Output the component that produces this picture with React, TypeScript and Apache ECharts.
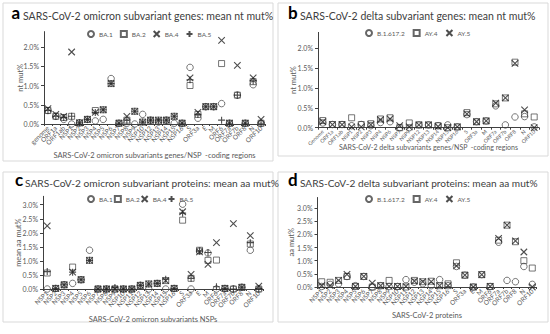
import React, { useEffect, useRef } from 'react';
import * as echarts from 'echarts';

const genesOmicron = ['genome','ORF1a','ORF1ab','NSP1','NSP2','NSP3','NSP4','NSP5','NSP6','NSP7','NSP8','NSP9','NSP10','NSP12','NSP13','NSP14','NSP15','NSP16','S','ORF3a','E','M','ORF6','ORF7a','ORF7b','ORF8','N','ORF10'];
const aBA1 = [0.35,0.2,0.12,0.0,0.03,0.12,0.08,0.12,1.18,0.02,0.02,0.0,0.25,0.1,0.05,0.1,0.02,0.02,1.47,0.15,0.45,0.45,0.53,0.02,0.75,0.02,1.02,0.02];
const aBA2 = [0.35,0.2,0.17,0.2,0.03,0.12,0.35,0.37,1.05,0.02,0.1,0.33,0.05,0.1,0.1,0.1,0.2,0.02,1.0,0.25,0.45,0.45,1.57,0.02,0.75,0.02,1.1,0.02];
const aBA4 = [0.4,0.25,0.2,1.87,0.03,0.12,0.3,0.37,1.05,0.02,0.2,0.33,0.05,0.1,0.1,0.1,0.2,0.02,1.2,0.3,0.45,0.45,2.17,0.02,1.52,0.02,1.2,0.12];
const aBA5 = [0.35,0.2,0.17,0.2,0.03,0.12,0.3,0.37,1.05,0.02,0.1,0.33,0.05,0.1,0.1,0.1,0.2,0.02,1.15,0.25,0.45,0.45,0.1,0.02,0.75,0.02,1.12,0.02];

const genesDelta = ['Genome','ORF1a','ORF1ab','NSP1','NSP2','NSP3','NSP4','NSP6','NSP7','NSP9','NSP12','NSP13','NSP14','NSP15','NSP16','S','ORF3a','M','ORF7a','ORF7b','ORF8','N','ORF10'];
const bB1617 = [0.12,0.08,0.08,0.05,0.08,0.05,0.13,0.15,0.0,0.0,0.07,0.07,0.05,0.07,0.02,0.33,0.15,0.17,0.55,0.07,0.27,0.28,0.02];
const bAY4 = [0.18,0.08,0.08,0.25,0.08,0.1,0.22,0.25,0.0,0.12,0.07,0.07,0.05,0.0,0.02,0.38,0.15,0.17,0.6,0.75,1.65,0.35,0.27];
const bAY5 = [0.15,0.08,0.08,0.02,0.02,0.08,0.2,0.22,0.05,0.02,0.07,0.07,0.03,0.0,0.02,0.35,0.15,0.17,0.62,0.75,1.62,0.45,0.0];

const proteins = ['NSP1','NSP2','NSP3','NSP4','NSP5','NSP6','NSP7','NSP8','NSP9','NSP10','NSP11','NSP12','NSP13','NSP14','NSP15','NSP16','S','ORF3a','E','M','ORF6','ORF7a','ORF7b','ORF8','N','ORF10'];
const cBA1 = [0.0,0.02,0.15,0.2,0.33,1.38,0.0,0.0,0.0,0.0,0.0,0.13,0.0,0.2,0.0,0.02,3.02,0.0,1.35,1.28,0.0,0.02,0.0,0.06,1.38,0.0];
const cBA2 = [0.57,0.02,0.15,0.78,0.33,1.02,0.0,0.0,0.0,0.0,0.0,0.13,0.18,0.2,0.3,0.02,2.45,0.38,1.38,1.02,1.03,0.02,0.0,0.06,1.6,0.0];
const cBA4 = [2.25,0.02,0.15,0.6,0.33,1.02,0.0,0.0,0.0,0.0,0.0,0.13,0.18,0.2,0.3,0.02,2.75,0.52,1.32,0.88,1.65,0.02,2.33,0.06,1.9,0.1];
const cBA5 = [0.62,0.02,0.15,0.6,0.33,1.02,0.0,0.0,0.05,0.0,0.0,0.13,0.18,0.2,0.35,0.02,2.7,0.38,1.35,1.3,0.08,0.02,0.0,0.06,1.65,0.02];

const dB1617 = [0.02,0.1,0.12,0.4,0.05,0.4,0.0,0.05,0.02,0.02,0.28,0.18,0.12,0.05,0.28,0.05,0.78,0.45,0.0,0.47,0.02,1.7,0.25,0.2,0.78,0.1];
const dAY4 = [0.2,0.18,0.25,0.4,0.02,0.4,0.0,0.05,0.25,0.02,0.0,0.25,0.2,0.22,0.05,0.12,0.92,0.45,0.0,0.47,0.02,1.78,2.35,1.72,1.0,0.72];
const dAY5 = [0.05,0.05,0.25,0.48,0.02,0.4,0.15,0.05,0.02,0.02,0.02,0.22,0.2,0.2,0.05,0.05,0.8,0.45,0.0,0.47,0.02,1.85,2.35,1.75,1.33,0.0];

const FONT = 'Lato';
const TXT = '#595959';
const AX = '#404040';

const SYM: Record<string, any> = {
  circle: { symbol: 'circle', symbolSize: 6.5, itemStyle: { color: 'rgba(0,0,0,0)', borderColor: '#404040', borderWidth: 0.9 } },
  square: { symbol: 'rect', symbolSize: 6, itemStyle: { color: 'rgba(0,0,0,0)', borderColor: '#404040', borderWidth: 0.9 } },
  cross: { symbol: 'path://M0,0L10,10M10,0L0,10', symbolSize: 6.5, itemStyle: { color: 'rgba(0,0,0,0)', borderColor: '#222', borderWidth: 1.1 } },
  plus: { symbol: 'path://M5,0L5,10M0,5L10,5', symbolSize: 7, itemStyle: { color: 'rgba(0,0,0,0)', borderColor: '#222', borderWidth: 1.1 } },
};

export default function App() {
  const ref = useRef<HTMLDivElement>(null);
  useEffect(() => {
    if (!ref.current) return;
    const chart = echarts.init(ref.current, undefined, { renderer: 'svg' });

    const grids = [
      { left: 44, top: 31.6, width: 221, height: 92.4 },
      { left: 318, top: 32.4, width: 221, height: 95.3 },
      { left: 43, top: 196.3, width: 220, height: 92.7 },
      { left: 317.5, top: 197.5, width: 219, height: 89.5 },
    ];
    const cats = [genesOmicron, genesDelta, proteins, proteins];
    const maxes = [2.4, 2.4, 3.3, 3.4];
    const xNames = [
      'SARS-CoV-2 omicron subvariants genes/NSP  -coding regions',
      'SARS-CoV-2 delta subvariants genes/NSP  -coding regions',
      'SARS-CoV-2 omicron subvariants NSPs',
      'SARS-CoV-2 proteins',
    ];
    const xGaps = [27, 16, 26, 24];
    const xLabelFs = [6.5, 5.3, 6.5, 6.5];
    const xNameFs = [7.5, 7, 7.5, 7.5];
    const yNames = ['nt mut%', 'nt mut%', 'mean aa mut%', 'aa mut%'];
    const yGaps = [20, 21, 21, 22];

    const xAxis = grids.map((_, i) => ({
      type: 'category', gridIndex: i, data: cats[i],
      name: xNames[i], nameLocation: 'middle', nameGap: xGaps[i], nameMoveOverlap: false,
      nameTextStyle: { fontFamily: FONT, fontSize: xNameFs[i], color: TXT },
      axisLine: { lineStyle: { color: AX, width: 1 } },
      axisTick: { show: true, length: 2, lineStyle: { color: AX } },
      axisLabel: { rotate: 45, fontFamily: FONT, fontSize: xLabelFs[i], color: TXT, margin: 3, interval: 0 },
      splitLine: { show: false },
    }));
    const yAxis = grids.map((_, i) => ({
      type: 'value', gridIndex: i, min: 0, max: maxes[i], interval: 0.5,
      name: yNames[i], nameLocation: 'middle', nameGap: yGaps[i], nameMoveOverlap: false,
      nameTextStyle: { fontFamily: FONT, fontSize: 7.5, color: TXT },
      axisLine: { show: true, lineStyle: { color: AX, width: 1 } },
      axisTick: { show: true, length: 3, lineStyle: { color: AX } },
      axisLabel: { showMaxLabel: false, fontFamily: FONT, fontSize: 7, color: TXT, margin: 5,
        formatter: (v: number) => v.toFixed(1) + '%' },
      splitLine: { show: false },
    }));

    const mk = (name: string, sym: string, data: number[], idx: number) => ({
      type: 'scatter', name, data, xAxisIndex: idx, yAxisIndex: idx,
      ...SYM[sym], z: 3,
    });

    const series = [
      mk('BA.1', 'circle', aBA1, 0), mk('BA.2', 'square', aBA2, 0), mk('BA.4', 'cross', aBA4, 0), mk('BA.5', 'plus', aBA5, 0),
      mk('B.1.617.2', 'circle', bB1617, 1), mk('AY.4', 'square', bAY4, 1), mk('AY.5', 'cross', bAY5, 1),
      mk('BA.1', 'circle', cBA1, 2), mk('BA.2', 'square', cBA2, 2), mk('BA.4', 'cross', cBA4, 2), mk('BA.5', 'plus', cBA5, 2),
      mk('B.1.617.2', 'circle', dB1617, 3), mk('AY.4', 'square', dAY4, 3), mk('AY.5', 'cross', dAY5, 3),
    ];

    const legBase = { orient: 'horizontal', itemWidth: 6, itemHeight: 6, itemGap: 8, selectedMode: false,
      textStyle: { fontFamily: FONT, fontSize: 6.5, color: TXT } };
    const legend = [
      { ...legBase, itemGap: 7, left: 82, top: 25, data: ['BA.1', 'BA.2', 'BA.4', 'BA.5'] },
      { ...legBase, left: 360, top: 24, data: ['B.1.617.2', 'AY.4', 'AY.5'] },
      { ...legBase, itemGap: 1, left: 82, top: 190, data: ['BA.1', 'BA.2', 'BA.4', 'BA.5'] },
      { ...legBase, left: 360, top: 190, data: ['B.1.617.2', 'AY.4', 'AY.5'] },
    ];

    const boxes = [
      [3, 3, 270, 158], [278, 3, 270, 153], [3, 172, 270, 150], [278, 172, 270, 150],
    ];
    const titles = [
      { l: 'a', lx: 11.5, tx: 23, y: 21, fs: 10.5, t: 'SARS-CoV-2 omicron subvariant genes: mean nt mut%' },
      { l: 'b', lx: 288, tx: 300, y: 21, fs: 10.5, t: 'SARS-CoV-2 delta subvariant genes: mean nt mut%' },
      { l: 'c', lx: 15, tx: 25, y: 188, fs: 10.2, t: 'SARS-CoV-2 omicron subvariant proteins: mean aa mut%' },
      { l: 'd', lx: 288, tx: 300, y: 187.5, fs: 10.1, t: 'SARS-CoV-2 delta subvariant proteins: mean aa mut%' },
    ];
    const graphic: any[] = [];
    boxes.forEach(([x, y, w, h]) => graphic.push({ type: 'rect', shape: { x, y, width: w, height: h }, style: { fill: 'none', stroke: '#d9d9d9', lineWidth: 1 }, silent: true, z: -1 }));
    titles.forEach((t) => {
      graphic.push({ type: 'text', x: t.lx, y: t.y, style: { text: t.l, font: `bold 17px ${FONT}`, fill: '#000', verticalAlign: 'bottom' } });
      graphic.push({ type: 'text', x: t.tx, y: t.y, style: { text: t.t, font: `${t.fs}px ${FONT}`, fill: '#404040', verticalAlign: 'bottom' } });
    });

    chart.setOption({
      animation: false,
      backgroundColor: '#fff',
      grid: grids,
      xAxis, yAxis, series, legend, graphic,
    });
    return () => chart.dispose();
  }, []);
  return <div ref={ref} style={{ position: 'fixed', left: 0, top: 0, width: 550, height: 334 }} />;
}
